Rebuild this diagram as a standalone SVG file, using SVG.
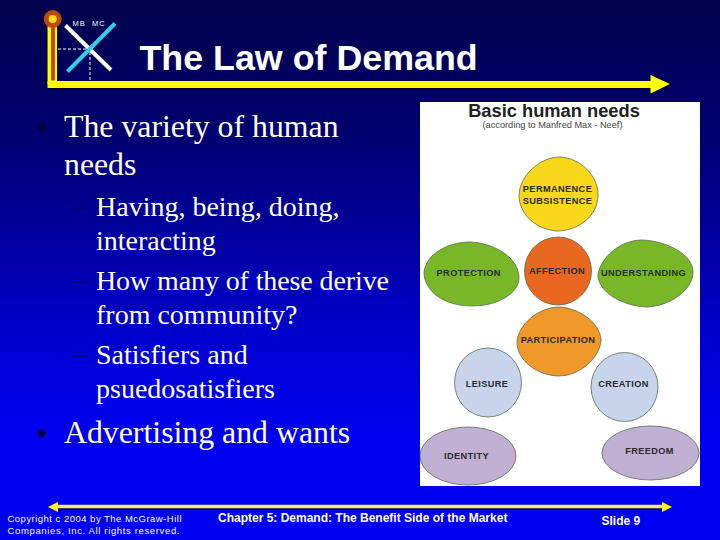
<svg xmlns="http://www.w3.org/2000/svg" width="720" height="540" viewBox="0 0 720 540">
<defs>
<linearGradient id="bg" x1="0" y1="0" x2="0" y2="1"><stop offset="0" stop-color="#00004a"/><stop offset="0.25" stop-color="#000070"/><stop offset="0.6" stop-color="#0000c8"/><stop offset="0.8" stop-color="#0000f0"/><stop offset="1" stop-color="#0000f0"/></linearGradient>
</defs>
<style>
.b{font-family:"Liberation Serif",serif;fill:#fff}
.l1{font-size:31.8px}
.l2{font-size:28px}
.d{font-family:"Liberation Serif",serif;font-size:31px;fill:#000070}
.s{font-family:"Liberation Sans",sans-serif;fill:#fff}
.n{font-family:"Liberation Sans",sans-serif;font-size:9.2px;font-weight:bold;fill:#2a2a2a;text-anchor:middle;letter-spacing:.4px}
.o{stroke:#5a6a50;stroke-width:.8}
</style>
<rect width="720" height="540" fill="url(#bg)"/>
<g id="logo">
<path d="M48 86.500H650" fill="none" stroke="#000030" stroke-width="6"/>
<polygon points="672,85 652,76 652,95" fill="#000030"/>
<path d="M52.300 25V84.500" fill="none" stroke="#ffff00" stroke-width="9.500"/>
<path d="M47.500 84.500H652" fill="none" stroke="#ffff00" stroke-width="7"/>
<path d="M53 25V80.500" fill="none" stroke="#c04808" stroke-width="4"/>
<polygon points="670,84 650.500,75 650.500,93.500" fill="#ffff00"/>
<circle cx="52.700" cy="19" r="6.500" fill="#ffe010" stroke="#c04808" stroke-width="5"/>
<path d="M58 49H90V80" fill="none" stroke="#fff" stroke-width="1" stroke-dasharray="3 2"/>
<line x1="65.500" y1="25.500" x2="111" y2="70" stroke="#fff" stroke-width="4"/>
<line x1="115" y1="23.500" x2="67.500" y2="71.500" stroke="#30d0e8" stroke-width="4"/>
<text class="s" x="72.500" y="26" font-size="7.500" letter-spacing="1">MB</text>
<text class="s" x="92" y="26" font-size="7.500" letter-spacing="1">MC</text>
</g>
<text id="title" class="s" x="139.500" y="70" font-size="35.800" font-weight="bold">The Law of Demand</text>
<g id="body">
<circle cx="41.700" cy="126.700" r="4" fill="#000040"/>
<text class="b l1" x="64" y="136.500">The variety of human</text>
<text class="b l1" x="64" y="175">needs</text>
<text class="d" x="72" y="216">–</text>
<text class="b l2" x="96" y="216">Having, being, doing,</text>
<text class="b l2" x="96" y="250">interacting</text>
<text class="d" x="72" y="290">–</text>
<text class="b l2" x="96" y="290" textLength="293">How many of these derive</text>
<text class="b l2" x="96" y="324">from community?</text>
<text class="d" x="72" y="364">–</text>
<text class="b l2" x="96" y="364">Satisfiers and</text>
<text class="b l2" x="96" y="398">psuedosatisfiers</text>
<circle cx="41.700" cy="433.300" r="4" fill="#000040"/>
<text class="b l1" x="64" y="443">Advertising and wants</text>
</g>
<g id="needs">
<rect x="420" y="102" width="280" height="384" fill="#fff"/>
<text x="554" y="116.700" font-family="Liberation Sans,sans-serif" font-size="18.300" font-weight="bold" fill="#222" text-anchor="middle">Basic human needs</text>
<text x="552.500" y="128" font-family="Liberation Sans,sans-serif" font-size="9.200" fill="#444" text-anchor="middle">(according to Manfred Max - Neef)</text>
<g id="n-perm"><path class="o" d="M519 195C520 175 540 157 560 157C580 158 598 175 598 195C598 215 580 230 558 231C537 230 519 215 519 195Z" fill="#f8d818"/><text class="n" x="557.500" y="192">PERMANENCE</text><text class="n" x="557.500" y="204">SUBSISTENCE</text></g>
<g id="n-prot"><path class="o" d="M424 272C426 254 448 242 470 242C495 243 519 258 519 278C519 292 500 306 472 306C445 306 424 292 424 272Z" fill="#78b828"/><text class="n" x="468.700" y="276">PROTECTION</text></g>
<g id="n-aff"><ellipse class="o" cx="558" cy="271" rx="33.500" ry="34" fill="#e86820"/><text class="n" x="557" y="273.500">AFFECTION</text></g>
<g id="n-und"><path class="o" d="M598 275C600 258 620 240 642 240C668 241 693 255 693 272C693 290 670 306 647 307C622 306 598 292 598 275Z" fill="#78b828"/><text class="n" x="643.500" y="275.500">UNDERSTANDING</text></g>
<g id="n-part"><path class="o" d="M517 342C518 325 538 307 560 307C578 308 600 322 601 340C600 358 580 376 558 376C536 375 517 360 517 342Z" fill="#f09828"/><text class="n" x="558" y="342.500">PARTICIPATION</text></g>
<g id="n-leis"><ellipse class="o" cx="488" cy="382.500" rx="33.500" ry="34.500" fill="#c8d4ec"/><text class="n" x="487" y="386.500">LEISURE</text></g>
<g id="n-crea"><ellipse class="o" cx="624.500" cy="387" rx="33.500" ry="34.500" fill="#c8d4ec"/><text class="n" x="623.500" y="387">CREATION</text></g>
<g id="n-iden"><ellipse class="o" cx="468" cy="456" rx="48" ry="29" fill="#c0b0d4"/><text class="n" x="466.500" y="459">IDENTITY</text></g>
<g id="n-free"><ellipse class="o" cx="650.500" cy="453" rx="48.500" ry="27" fill="#c0b0d4"/><text class="n" x="649.500" y="454">FREEDOM</text></g>
</g>
<g id="footer">
<line x1="56" y1="507.500" x2="664" y2="507.500" stroke="#000060" stroke-width="5"/>
<line x1="56" y1="506.500" x2="664" y2="506.500" stroke="#f0f060" stroke-width="3.500"/>
<polygon points="48,507 58,502 58,512" fill="#ffff00"/>
<polygon points="672,507 662,502 662,512" fill="#ffff00"/>
<text class="s" x="7.500" y="522" font-size="9.500" textLength="174">Copyright c 2004 by The McGraw-Hill</text>
<text class="s" x="7.500" y="534" font-size="9.500" textLength="172">Companies, Inc.  All rights reserved.</text>
<text class="s" x="218" y="521.500" font-size="12" font-weight="bold">Chapter 5: Demand: The Benefit Side of the Market</text>
<text class="s" x="601.500" y="525" font-size="12" font-weight="bold">Slide 9</text>
</g>
</svg>
